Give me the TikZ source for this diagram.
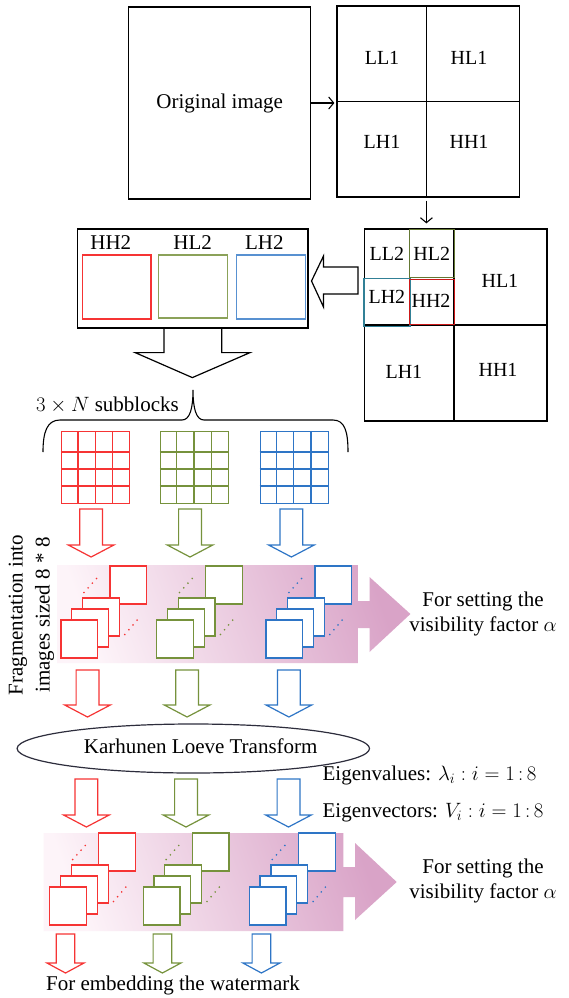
\documentclass[tikz,border=0pt]{standalone}
\usepackage{fontspec}
\setmainfont{Liberation Serif}
\usetikzlibrary{arrows.meta,shapes.geometric,calc}
\definecolor{cred}{RGB}{246,52,52}
\definecolor{cgreen}{RGB}{118,146,60}
\definecolor{cblue}{RGB}{46,117,198}
\definecolor{cteal}{RGB}{49,128,150}
\definecolor{cdgreen}{RGB}{100,120,52}
\definecolor{cdred}{RGB}{205,25,25}
\definecolor{pinkdark}{RGB}{217,163,199}
\definecolor{pinkmid}{RGB}{232,192,218}
\definecolor{pinklight}{RGB}{253,244,249}
\definecolor{ellline}{RGB}{45,45,60}
\tikzset{
  lbl/.style={font=\fontsize{21}{25}\selectfont, inner sep=0pt},
  glbl/.style={font=\fontsize{20}{24}\selectfont, inner sep=0pt},
  box/.style={draw=black, line width=1.2pt},
  thinarr/.style={line width=1.1pt, -{Straight Barb[length=5pt,width=12pt]}},
  blockarr/.style={line width=1.2pt, fill=white},
  gridline/.style={line width=1.1pt},
  sq/.style={line width=1.2pt, fill=white},
  dotline/.style={line width=1.3pt, dash pattern=on 1.3pt off 5pt},
  subbox/.style={line width=1.4pt, anchor=north west, inner sep=0pt},
  band/.style={left color=pinklight, middle color=pinkmid, right color=pinkdark, shading angle=110}
}
% hollow down block arrow: colour, cx, half shaft, half head, top, head y, tip y
\newcommand\hdarrow[7]{\draw[blockarr, draw=#1] (#2-#3,#5) -- (#2-#3,#6) -- (#2-#4,#6) -- (#2,#7) -- (#2+#4,#6) -- (#2+#3,#6) -- (#2+#3,#5) -- cycle;}
% stack of 8x8 images: colour, front top-left x, y
\newcommand\imgstack[3]{%
  \draw[dotline, draw=#1] (#2+22.6,#3-27) -- (#2+37,#3-43);
  \draw[dotline, draw=#1] (#2+63.5,#3+15) -- (#2+78,#3-2);
  \draw[sq, draw=#1] (#2+49.1,#3-54) rectangle ++(36.8,38);
  \draw[sq, draw=#1] (#2+21.7,#3-22) rectangle ++(36.8,38);
  \draw[sq, draw=#1] (#2+10.8,#3-11) rectangle ++(36.8,38);
  \draw[sq, draw=#1] (#2,#3) rectangle ++(36.8,38);
}
% 4x4 subblock grid: colour, left x, name
\newcommand\subgrid[3]{%
  \node[draw=#1, gridline, minimum width=68.4pt, minimum height=72pt, anchor=north west, inner sep=0pt] (#3) at (#2,431) {};
  \foreach \i in {1,2,3} \draw[gridline, draw=#1] ($(#3.north west)+(17.1*\i,0)$) -- ($(#3.south west)+(17.1*\i,0)$);
  \foreach \yy in {21,38,55} \draw[gridline, draw=#1] ($(#3.north west)+(0,\yy)$) -- ($(#3.north east)+(0,\yy)$);
}
\begin{document}
\begin{tikzpicture}[x=1pt,y=-1pt]
\fill[white] (0,0) rectangle (568,998);
\useasboundingbox (0,0) rectangle (568,998);

% ---- first level ----
\node[box, lbl, minimum width=182.2pt, minimum height=192pt] (orig) at (219.7,103) {Original image};
\node[box, minimum width=182.8pt, minimum height=191pt, inner sep=0pt] (g1) at (428.4,101.5) {};
\draw[box] ([xshift=-2pt]g1.north) -- ([xshift=-2pt]g1.south);
\draw[box] (g1.west) -- (g1.east);
\node[glbl] (ll1) at (382,58) {LL1};
\node[glbl] (hl1) at (469,58) {HL1};
\node[glbl] (lh1) at (382,142) {LH1};
\node[glbl] (hh1) at (469,142) {HH1};
\draw[thinarr, shorten >=2pt] (orig.east) -- (orig.east -| g1.west);

% ---- second level ----
\node[box, minimum width=182.6pt, minimum height=192pt, inner sep=0pt] (g2) at (455.7,325) {};
\draw[thinarr, shorten <=3pt, shorten >=5pt] ([xshift=-2pt]g1.south) -- ([xshift=-2pt]g1.south |- g2.north);
\draw[box] ([xshift=-1.8pt]g2.north) -- ([xshift=-1.8pt]g2.south);
\draw[box] (g2.west) -- (g2.east);
\node[subbox, draw=cdgreen, minimum width=45.3pt, minimum height=48pt] (hl2b) at (408.6,229) {};
\node[subbox, draw=cteal, minimum width=46pt, minimum height=48pt] (lh2b) at (363.3,278) {};
\node[subbox, draw=cdred, minimum width=45.3pt, minimum height=45pt] (hh2b) at (408.6,279) {};
\node[glbl] (ll2) at (386.9,254) {LL2};
\node[glbl] (hl2) at (431.8,254) {HL2};
\node[glbl] (lh2) at (386.9,297) {LH2};
\node[glbl] (hh2) at (431,301) {HH2};
\node[glbl] (hl1b) at (499.9,281) {HL1};
\node[glbl] (lh1b) at (403.9,372) {LH1};
\node[glbl] (hh1b) at (498,370) {HH1};

% ---- extracted sub-bands ----
\node[box, minimum width=230.7pt, minimum height=99pt, inner sep=0pt] (hb) at (192.55,278.5) {};
\node[draw=cred, line width=1.2pt, minimum width=68.4pt, minimum height=64pt, inner sep=0pt] (hbr) at (116.8,287) {};
\node[draw=cgreen!85, line width=1.2pt, minimum width=68.8pt, minimum height=63pt, inner sep=0pt] (hbg) at (193.1,286.5) {};
\node[draw=cblue!80, line width=1.2pt, minimum width=69.2pt, minimum height=64pt, inner sep=0pt] (hbb) at (270.8,287) {};
\node[lbl] (thh2) at (110.8,243) {HH2};
\node[lbl] (thl2) at (192.7,243) {HL2};
\node[lbl] (tlh2) at (264.4,243) {LH2};

% big left block arrow
\draw[blockarr, draw=black] (357.9,267) -- (323.5,267) -- (323.5,256) -- (311.5,281) -- (323.5,307) -- (323.5,294) -- (357.9,294) -- cycle;
% big down block arrow out of hb
\draw[line width=1.2pt] ($(hb.south)+(-28.5,0)$) -- ++(0,24) -- ++(-28.9,0) -- ++(57.2,25) -- ++(57.7,-25) -- ++(-28.3,0) -- ++(0,-24);

% ---- brace and subblocks ----
\node[lbl] (nsub) at (107.5,405) {$3\times N$ subblocks};
\draw[line width=1.1pt] (43,452) .. controls (43,432) and (47,420) .. (60,420) -- (182,420)
  .. controls (190,420) and (193,408) .. (193,390)
  .. controls (193,408) and (196,420) .. (204,420) -- (333,420)
  .. controls (345,420) and (348,432) .. (348,452);
\subgrid{cred}{60.9}{gr}
\subgrid{cgreen}{159.8}{gg}
\subgrid{cblue}{259.7}{gb}

\hdarrow{cred}{91.1}{11.4}{22.8}{509}{545}{557}
\hdarrow{cgreen}{190}{11.4}{22.8}{509}{545}{557}
\hdarrow{cblue}{291.4}{11.4}{22.8}{509}{545}{557}

% ---- band 1 ----
\shade[band] (57.2,565) -- (357.9,565) -- (357.9,601) -- (369.5,601) -- (369.5,577) -- (410.4,614) -- (369.5,652) -- (369.5,628) -- (357.9,628) -- (357.9,663) -- (57.2,663) -- cycle;
\imgstack{cred}{60.9}{620}
\imgstack{cgreen}{156.5}{620}
\imgstack{cblue}{265.9}{620}
\node[lbl, align=center] (vis1) at (483,613.5) {For setting the\\visibility factor $\alpha$};
\node[font=\fontsize{21}{27}\selectfont, inner sep=0pt, align=center, rotate=90] (frag) at (31.5,615) {Fragmentation into\\images sized 8 * 8};

\hdarrow{cred}{87.5}{11.4}{22.8}{670}{705}{717}
\hdarrow{cgreen}{187.1}{11.4}{22.8}{670}{705}{717}
\hdarrow{cblue}{288.9}{11.4}{22.8}{670}{705}{717}

% ---- KLT ----
\node[ellipse, draw=ellline, line width=1.2pt, minimum width=352.4pt, minimum height=49pt, inner sep=0pt] (klt) at (193.3,748.5) {};
\node[lbl] (kltt) at (200.7,746) {Karhunen Loeve Transform};
\node[lbl, anchor=west] (eval) at (322.4,775) {Eigenvalues: $\lambda_i : i = 1\,{:}\,8$};
\node[lbl, anchor=west] (evec) at (322.4,813) {Eigenvectors: $V_i : i = 1\,{:}\,8$};

\hdarrow{cred}{86.4}{11.4}{22.8}{779}{815}{827}
\hdarrow{cgreen}{186}{11.4}{22.8}{779}{815}{827}
\hdarrow{cblue}{288.5}{11.4}{22.8}{779}{815}{827}

% ---- band 2 ----
\shade[band] (43.5,833) -- (343.4,833) -- (343.4,867) -- (355,867) -- (355,843) -- (396.7,882) -- (355,920) -- (355,897) -- (343.4,897) -- (343.4,931) -- (43.5,931) -- cycle;
\imgstack{cred}{49.6}{887}
\imgstack{cgreen}{143.1}{887}
\imgstack{cblue}{249.2}{887}
\node[lbl, align=center] (vis2) at (483,880.5) {For setting the\\visibility factor $\alpha$};

\hdarrow{cred}{65.5}{9.3}{18.5}{934}{963}{973}
\hdarrow{cgreen}{162.4}{9.3}{18.5}{934}{963}{973}
\hdarrow{cblue}{261.4}{9.3}{18.5}{934}{963}{973}
\node[lbl] (embed) at (173,985) {For embedding the watermark};
\end{tikzpicture}
\end{document}
